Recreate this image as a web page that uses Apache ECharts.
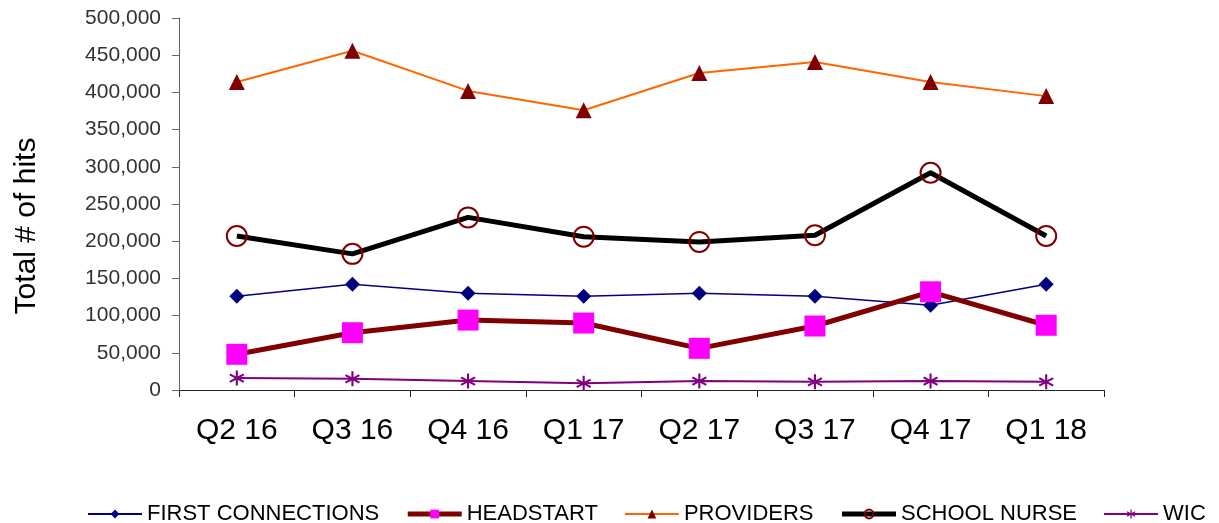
<!DOCTYPE html>
<html>
<head>
<meta charset="utf-8">
<script src="https://cdn.jsdelivr.net/npm/echarts@6/dist/echarts.min.js"></script>
<style>
  html, body { margin: 0; padding: 0; background: #fff; }
  #chart { width: 1219px; height: 523px; }
</style>
</head>
<body>
<div id="chart"></div>
<script>
// quarters on the x axis
const quarters = ['Q2 16', 'Q3 16', 'Q4 16', 'Q1 17', 'Q2 17', 'Q3 17', 'Q4 17', 'Q1 18'];

// hits per quarter
const firstConnections = [126000, 142000, 130000, 126000, 130000, 126000, 114000, 142000];
const headstart = [48000, 77000, 94000, 90000, 56000, 86000, 132000, 87000];
const providers = [414000, 456000, 402000, 376000, 426000, 441000, 414000, 395000];
const schoolNurse = [207000, 183000, 232000, 206000, 199000, 208000, 292000, 207000];
const wic = [16000, 15000, 12000, 9000, 12000, 11000, 12000, 11000];

// asterisk marker: vertical bar + two diagonals
const asterisk = 'path://M-1.3,-10L1.3,-10L1.3,10L-1.3,10Z' +
  'M8.0,6.1L-9.3,-3.9L-8.0,-6.1L9.3,3.9Z' +
  'M-8.0,6.1L-9.3,3.9L8.0,-6.1L9.3,-3.9Z';

const FONT = 'Liberation Sans, Arial, sans-serif';

var myChart = echarts.init(document.getElementById('chart'));

const option = {
  backgroundColor: '#fff',
  textStyle: { fontFamily: FONT },
  grid: { left: 179, right: 115, top: 18, bottom: 133 },
  graphic: [{
    type: 'text',
    x: 27,
    y: 226,
    rotation: Math.PI / 2,
    style: {
      text: 'Total # of hits',
      font: '30px ' + FONT,
      fill: '#000',
      align: 'center',
      verticalAlign: 'middle'
    }
  }],
  legend: {
    top: 498,
    left: 82,
    itemWidth: 54,
    itemHeight: 11,
    itemGap: 26,
    textStyle: { fontSize: 22, color: '#000', fontFamily: FONT },
    data: [
      { name: 'FIRST CONNECTIONS', lineStyle: { width: 2 } },
      { name: 'HEADSTART', lineStyle: { width: 5 } },
      { name: 'PROVIDERS', lineStyle: { width: 2 } },
      { name: 'SCHOOL NURSE', lineStyle: { width: 5 } },
      { name: 'WIC', lineStyle: { width: 2 } }
    ]
  },
  xAxis: {
    type: 'category',
    data: quarters,
    boundaryGap: true,
    axisLine: { lineStyle: { color: '#222', width: 1 } },
    axisTick: { show: true, length: 7, lineStyle: { color: '#222' } },
    axisLabel: { fontSize: 30, color: '#000', margin: 26 },
    splitLine: { show: false }
  },
  yAxis: {
    type: 'value',
    min: 0,
    max: 500000,
    interval: 50000,
    axisLine: { show: true, lineStyle: { color: '#666' } },
    axisTick: { show: true, length: 7, lineStyle: { color: '#666' } },
    axisLabel: {
      fontSize: 21,
      color: '#333',
      margin: 18,
      formatter: v => v.toLocaleString('en-US')
    },
    splitLine: { show: false }
  },
  series: [
    {
      name: 'FIRST CONNECTIONS',
      type: 'line',
      data: firstConnections,
      symbol: 'diamond',
      symbolSize: 15,
      lineStyle: { color: '#000080', width: 1.5 },
      itemStyle: { color: '#000080' }
    },
    {
      name: 'HEADSTART',
      type: 'line',
      data: headstart,
      symbol: 'rect',
      symbolSize: 21,
      lineStyle: { color: '#800000', width: 5 },
      itemStyle: { color: '#ff00ff' }
    },
    {
      name: 'PROVIDERS',
      type: 'line',
      data: providers,
      symbol: 'triangle',
      symbolSize: 16,
      lineStyle: { color: '#ff6600', width: 2 },
      itemStyle: { color: '#800000' }
    },
    {
      name: 'SCHOOL NURSE',
      type: 'line',
      data: schoolNurse,
      symbol: 'circle',
      symbolSize: 20,
      lineStyle: { color: '#000', width: 5 },
      itemStyle: { color: 'rgba(0,0,0,0)', borderColor: '#800000', borderWidth: 2 }
    },
    {
      name: 'WIC',
      type: 'line',
      data: wic,
      symbol: asterisk,
      symbolSize: 15,
      lineStyle: { color: '#800080', width: 2 },
      itemStyle: { color: '#800080' }
    }
  ]
};

option && myChart.setOption(option);
</script>
</body>
</html>
